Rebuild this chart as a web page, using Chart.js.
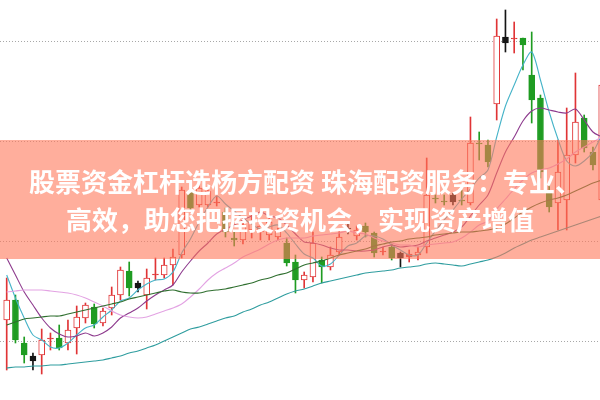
<!DOCTYPE html>
<html>
<head>
<meta charset="utf-8">
<script src="https://cdn.jsdelivr.net/npm/chart.js"></script>
<style>
  html, body { margin: 0; padding: 0; background: #fff; }
  #wrap { position: relative; width: 600px; height: 400px; overflow: hidden; }
  #c { position: absolute; left: 0; top: 0; }
  #banner {
    position: absolute; left: 0; top: 140px; width: 600px; height: 119px;
    background: rgba(255, 120, 90, 0.6);
    color: #fff; font-family: "Noto Sans CJK SC", "Noto Sans", sans-serif;
    font-weight: 700; font-size: 26px; line-height: 38px;
    text-align: center; white-space: nowrap; box-sizing: border-box; padding-top: 22px;
  }
  #banner .l1 { position: relative; left: 5px; }
</style>
</head>
<body>
<div id="wrap">
  <canvas id="c" width="600" height="400"></canvas>
  <div id="banner"><span class="l1">股票资金杠杆选杨方配资 珠海配资服务：专业、</span><br>高效，助您把握投资机会，实现资产增值</div>
</div>
<script>
// Daily candles (price)
const openP = [10.21,10.41,9.98,9.85,9.86,10.02,10.03,9.98,10.13,10.23, 10.34,10.18,10.33,10.46,10.70,10.58,10.46,10.66,10.66,10.76, 10.86,11.49,11.36,11.36,11.38,11.29,11.03,11.01,11.11,11.09, 11.06,11.04,10.98,10.79,10.61,10.64,10.81,10.74,10.89,11.12, 11.05,11.15,11.08,10.89,10.94,10.88,10.84,10.86,10.94,11.43, 11.40,11.46,11.41,11.38,11.98,11.96,12.37,13.04,13.02,13.03, 12.66,12.43,11.49,11.38,11.41,11.86,12.23,11.89,11.41];
const closeP = [10.41,10.01,9.86,9.80,10.01,10.03,9.93,10.11,10.24,10.36, 10.17,10.30,10.46,10.71,10.53,10.53,10.63,10.67,10.76,10.84, 11.51,11.33,11.53,11.50,11.39,11.09,11.01,11.16,11.19,11.15, 11.19,11.10,10.78,10.61,10.66,10.98,10.74,10.86,11.04,11.13, 11.11,11.09,10.88,10.90,10.83,10.83,10.87,10.89,11.46,11.42, 11.39,11.39,11.40,11.98,11.97,11.79,13.05,12.98,13.03,12.96, 12.41,11.69,11.34,11.69,11.86,12.19,11.93,11.76,12.56];
const highP = [10.63,10.46,10.04,9.88,10.12,10.08,10.16,10.21,10.35,10.38, 10.37,10.33,10.54,10.74,10.79,10.60,10.72,10.83,10.83,10.92, 11.54,11.53,11.58,11.53,11.45,11.33,11.09,11.23,11.26,11.21, 11.23,11.13,11.03,10.86,10.69,11.09,10.84,10.94,11.11,11.19, 11.15,11.18,11.09,10.94,10.97,10.89,10.91,10.94,11.83,11.46, 11.46,11.48,11.51,12.24,12.09,12.01,13.22,13.31,13.19,13.03, 13.09,12.46,11.56,12.01,12.33,12.68,12.26,11.94,12.61];
const lowP = [9.71,9.98,9.78,9.71,9.67,9.91,9.91,9.91,9.87,10.18, 10.13,10.15,10.26,10.41,10.45,10.49,10.32,10.61,10.63,10.56, 10.83,11.31,11.34,11.34,11.35,11.04,10.95,10.97,11.03,11.01, 11.01,11.01,10.75,10.48,10.53,10.59,10.58,10.71,10.86,11.07, 11.01,11.04,10.84,10.86,10.81,10.74,10.79,10.81,10.88,11.38, 11.36,11.36,11.36,11.36,11.81,11.74,12.21,12.89,12.88,12.71, 12.18,11.63,11.29,11.11,11.11,11.78,11.89,11.71,11.36];
// Candles carrying a dark signal marker
const signalDays = [3, 15, 39, 45, 51, 57];

// Moving averages
const ma5 = [10.66,10.43,10.23,10.06,10.01,9.94,9.93,9.98,10.06,10.13, 10.16,10.24,10.31,10.40,10.43,10.51,10.57,10.61,10.62,10.69, 10.88,11.02,11.19,11.34,11.45,11.37,11.30,11.23,11.17,11.12, 11.14,11.16,11.08,10.97,10.87,10.83,10.75,10.77,10.86,10.95, 10.98,11.05,11.05,11.02,10.96,10.91,10.86,10.86,10.98,11.10, 11.21,11.31,11.42,11.52,11.63,11.71,12.04,12.35,12.56,12.76, 12.89,12.61,12.29,12.02,11.80,11.75,11.80,11.89,12.06];
const ma10 = [10.83,10.66,10.49,10.36,10.23,10.13,10.07,10.04,10.05,10.08, 10.05,10.08,10.14,10.23,10.28,10.33,10.40,10.46,10.51,10.56, 10.69,10.80,10.90,10.98,11.07,11.12,11.16,11.21,11.25,11.29, 11.25,11.23,11.16,11.07,10.99,10.98,10.96,10.93,10.91,10.91, 10.90,10.90,10.91,10.94,10.96,10.94,10.95,10.96,11.00,11.03, 11.06,11.09,11.14,11.25,11.36,11.46,11.68,11.89,12.04,12.20, 12.30,12.33,12.31,12.29,12.28,12.32,12.21,12.09,12.04];
const ma20 = [10.49,10.50,10.51,10.51,10.51,10.50,10.49,10.48,10.46,10.43, 10.39,10.35,10.30,10.26,10.24,10.23,10.24,10.27,10.30,10.33, 10.37,10.44,10.52,10.61,10.68,10.73,10.78,10.84,10.88,10.92, 10.97,11.01,11.03,11.03,11.03,11.05,11.06,11.07,11.08,11.10, 11.08,11.07,11.03,11.00,10.98,10.96,10.96,10.94,10.96,10.97, 10.98,10.99,11.03,11.09,11.16,11.20,11.32,11.42,11.52,11.61, 11.68,11.71,11.73,11.77,11.82,11.89,11.94,11.99,12.04];
const ma30 = [10.16,10.19,10.22,10.23,10.24,10.25,10.25,10.27,10.29,10.31, 10.33,10.35,10.37,10.39,10.42,10.44,10.46,10.48,10.50,10.51, 10.49,10.48,10.48,10.50,10.51,10.52,10.54,10.56,10.58,10.61, 10.63,10.66,10.68,10.72,10.76,10.78,10.80,10.83,10.86,10.88, 10.90,10.92,10.95,10.97,10.99,11.00,11.02,11.03,11.04,11.06, 11.07,11.08,11.09,11.09,11.10,11.11,11.13,11.17,11.23,11.29, 11.34,11.38,11.41,11.43,11.46,11.50,11.54,11.58,11.61];
const ma60 = [9.73,9.74,9.74,9.75,9.75,9.76,9.76,9.77,9.78,9.79, 9.80,9.81,9.83,9.85,9.88,9.90,9.93,9.96,10.00,10.04, 10.08,10.12,10.14,10.17,10.20,10.23,10.25,10.29,10.32,10.36, 10.39,10.43,10.47,10.50,10.52,10.55,10.58,10.60,10.62,10.64, 10.66,10.68,10.69,10.70,10.71,10.73,10.74,10.75,10.77,10.78, 10.77,10.76,10.75,10.77,10.79,10.81,10.84,10.88,10.93,10.97, 11.01,11.04,11.07,11.10,11.13,11.16,11.19,11.22,11.25];

// Price grid levels
const gridLevels = [10, 11, 12, 13];

const RED = '#e03436', GREEN = '#1f9c22', DARK = '#151515';
const idx = openP.map((_, i) => i);
const isUp = idx.map(i => closeP[i] >= openP[i]);
const isSig = idx.map(i => signalDays.includes(i));
const lineColor = idx.map(i => isSig[i] ? DARK : (isUp[i] ? RED : GREEN));
const bodyFill = idx.map(i => isSig[i] ? DARK : (isUp[i] ? (Math.abs(closeP[i] - openP[i]) < 0.03 ? RED : '#ffffff') : GREEN));

const maLine = (arr, color) => ({
  type: 'line', data: arr.map((v, i) => ({x: i, y: v})),
  borderColor: color, borderWidth: 1.1, pointRadius: 0, tension: 0.3, fill: false, order: 0
});

new Chart(document.getElementById('c'), {
  data: {
    datasets: [
      maLine(ma60, '#2f9d9f'),
      maLine(ma30, '#2f6f2f'),
      maLine(ma20, '#e3a3e3'),
      maLine(ma10, '#8d3a8d'),
      maLine(ma5, '#45b3c8'),
      {
        type: 'bar', data: idx.map(i => ({x: i, y: [openP[i], closeP[i]]})),
        backgroundColor: bodyFill, borderColor: lineColor, borderWidth: 1, borderSkipped: false,
        barThickness: 6, grouped: false, order: 1
      },
      {
        type: 'bar', data: idx.map(i => ({x: i, y: [lowP[i], highP[i]]})),
        backgroundColor: lineColor, borderWidth: 0, barThickness: 1, grouped: false, order: 2
      }
    ]
  },
  options: {
    responsive: false, animation: false,
    layout: { padding: 0 },
    plugins: { legend: { display: false }, tooltip: { enabled: false } },
    scales: {
      x: { type: 'linear', min: -0.766, max: 67.806, offset: false, display: false },
      y: {
        type: 'linear', min: 9.41, max: 13.41,
        afterBuildTicks: s => { s.ticks = gridLevels.map(v => ({value: v})); },
        ticks: { display: false, includeBounds: false },
        grid: { color: '#a8a8a8', lineWidth: 1, drawTicks: false },
        border: { display: false, dash: [1, 2] }
      }
    }
  }
});
</script>
</body>
</html>
